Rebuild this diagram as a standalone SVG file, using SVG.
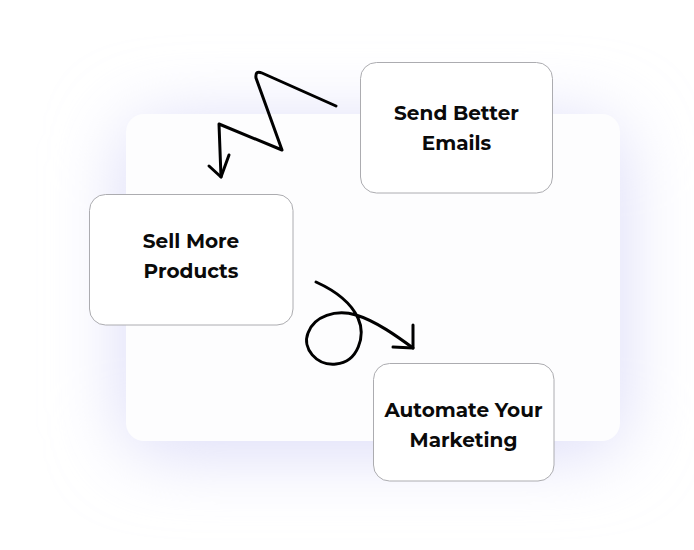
<svg xmlns="http://www.w3.org/2000/svg" width="694" height="550" viewBox="0 0 694 550">
<defs>
<filter id="glow" x="-50%" y="-50%" width="200%" height="200%">
<feGaussianBlur stdDeviation="38"/>
</filter>
<style>
.node rect{fill:#ffffff;stroke:#acacb0;stroke-width:1}
.node text{font-family:"Montserrat","Open Sans","Noto Sans",sans-serif;font-weight:700;font-size:20px;fill:#0a0a0a;text-anchor:middle}
.conn path{fill:none;stroke:#000000;stroke-width:3;stroke-linecap:round;stroke-linejoin:round}
</style>
</defs>
<rect width="694" height="550" fill="#ffffff"/>
<rect x="126" y="124" width="494" height="326" rx="30" fill="#d9d9f8" filter="url(#glow)"/>
<rect id="panel" x="126" y="114" width="494" height="327" rx="18" fill="#fdfdfe"/>
<g class="conn" id="connectors">
<path d="M336,106 L262,73 Q255,70 256,78 L282,150 L219,124 L221,177"/>
<path d="M209,166 L221,177 L229,155"/>
<path d="M316,282 C338,292 352,305 358,318 C366,336 358,362 336,364 C316,366 302,348 308,333 C314,316 336,309 356,315 C376,321 398,337 413,348"/>
<path d="M413,325 L413,348 L393,347"/>
</g>
<g class="node" id="node-send">
<rect x="360.5" y="62.5" width="192" height="130.5" rx="16"/>
<text x="456.5" y="120">Send Better</text>
<text x="456.5" y="150">Emails</text>
</g>
<g class="node" id="node-sell">
<rect x="89.5" y="194.5" width="203.5" height="130.5" rx="16"/>
<text x="191" y="248">Sell More</text>
<text x="191" y="278">Products</text>
</g>
<g class="node" id="node-automate">
<rect x="373.5" y="363.5" width="180.5" height="117.5" rx="16"/>
<text x="463.5" y="416.5">Automate Your</text>
<text x="463.5" y="447">Marketing</text>
</g>
</svg>
